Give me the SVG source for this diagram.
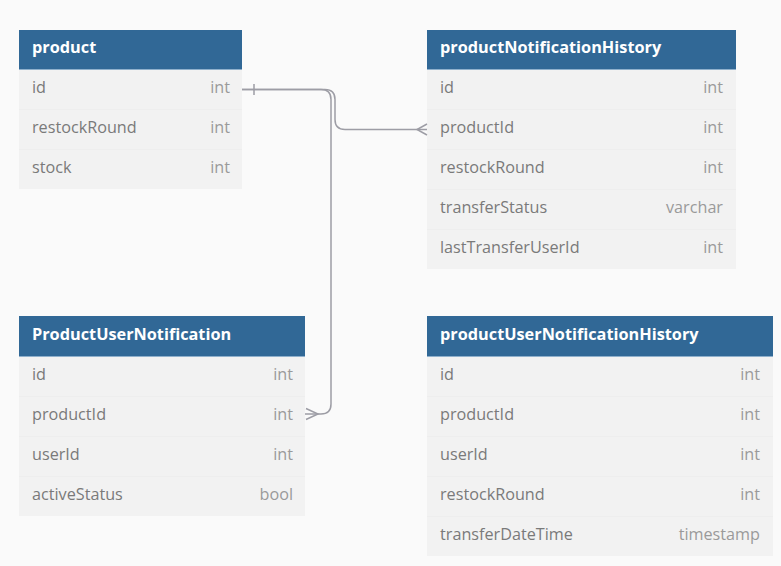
<svg xmlns="http://www.w3.org/2000/svg" width="781" height="566" viewBox="0 0 781 566">
<style>
.bg{fill:#fafafa}
.hd{fill:#316896}
.hl{stroke:#8fb0cc;stroke-width:1}
.row{fill:#f2f2f2}
.sep{stroke:#eeeeee;stroke-width:1}
.ht{font-family:"Open Sans","Noto Sans",sans-serif;font-size:16.3px;font-weight:bold;fill:#ffffff}
.fn{font-family:"Open Sans","Noto Sans",sans-serif;font-size:16.2px;fill:#7a7a7a}
.ft{font-family:"Open Sans","Noto Sans",sans-serif;font-size:16.2px;fill:#9a9a9a;text-anchor:end}
.cn{fill:none;stroke:#9d9da5;stroke-width:1.5}
</style>
<rect class="bg" x="0" y="0" width="781" height="566"/>

<g id="product">
<rect class="hd" x="19" y="30" width="223" height="39"/>
<rect class="row" x="19" y="69" width="223" height="120"/>
<line class="hl" x1="19" y1="69.5" x2="242" y2="69.5"/>
<line class="sep" x1="19" y1="109.5" x2="242" y2="109.5"/>
<line class="sep" x1="19" y1="149.5" x2="242" y2="149.5"/>
<text class="ht" x="32" y="53">product</text>
<text class="fn" x="32" y="93">id</text><text class="ft" x="230" y="93">int</text>
<text class="fn" x="32" y="133">restockRound</text><text class="ft" x="230" y="133">int</text>
<text class="fn" x="32" y="173">stock</text><text class="ft" x="230" y="173">int</text>
</g>

<g id="productNotificationHistory">
<rect class="hd" x="427" y="30" width="309" height="39"/>
<rect class="row" x="427" y="69" width="309" height="200"/>
<line class="hl" x1="427" y1="69.5" x2="736" y2="69.5"/>
<line class="sep" x1="427" y1="109.5" x2="736" y2="109.5"/>
<line class="sep" x1="427" y1="149.5" x2="736" y2="149.5"/>
<line class="sep" x1="427" y1="189.5" x2="736" y2="189.5"/>
<line class="sep" x1="427" y1="229.5" x2="736" y2="229.5"/>
<text class="ht" x="440" y="53">productNotificationHistory</text>
<text class="fn" x="440" y="93">id</text><text class="ft" x="723" y="93">int</text>
<text class="fn" x="440" y="133">productId</text><text class="ft" x="723" y="133">int</text>
<text class="fn" x="440" y="173">restockRound</text><text class="ft" x="723" y="173">int</text>
<text class="fn" x="440" y="213">transferStatus</text><text class="ft" x="723" y="213">varchar</text>
<text class="fn" x="440" y="253">lastTransferUserId</text><text class="ft" x="723" y="253">int</text>
</g>

<g id="ProductUserNotification">
<rect class="hd" x="19" y="316" width="286" height="40"/>
<rect class="row" x="19" y="356" width="286" height="160"/>
<line class="hl" x1="19" y1="356.5" x2="305" y2="356.5"/>
<line class="sep" x1="19" y1="396.5" x2="305" y2="396.5"/>
<line class="sep" x1="19" y1="436.5" x2="305" y2="436.5"/>
<line class="sep" x1="19" y1="476.5" x2="305" y2="476.5"/>
<text class="ht" x="32" y="340">ProductUserNotification</text>
<text class="fn" x="32" y="380">id</text><text class="ft" x="293" y="380">int</text>
<text class="fn" x="32" y="420">productId</text><text class="ft" x="293" y="420">int</text>
<text class="fn" x="32" y="460">userId</text><text class="ft" x="293" y="460">int</text>
<text class="fn" x="32" y="500">activeStatus</text><text class="ft" x="293" y="500">bool</text>
</g>

<g id="productUserNotificationHistory">
<rect class="hd" x="427" y="316" width="346" height="40"/>
<rect class="row" x="427" y="356" width="346" height="200"/>
<line class="hl" x1="427" y1="356.5" x2="773" y2="356.5"/>
<line class="sep" x1="427" y1="396.5" x2="773" y2="396.5"/>
<line class="sep" x1="427" y1="436.5" x2="773" y2="436.5"/>
<line class="sep" x1="427" y1="476.5" x2="773" y2="476.5"/>
<line class="sep" x1="427" y1="516.5" x2="773" y2="516.5"/>
<text class="ht" x="440" y="340">productUserNotificationHistory</text>
<text class="fn" x="440" y="380">id</text><text class="ft" x="760" y="380">int</text>
<text class="fn" x="440" y="420">productId</text><text class="ft" x="760" y="420">int</text>
<text class="fn" x="440" y="460">userId</text><text class="ft" x="760" y="460">int</text>
<text class="fn" x="440" y="500">restockRound</text><text class="ft" x="760" y="500">int</text>
<text class="fn" x="440" y="540">transferDateTime</text><text class="ft" x="760" y="540">timestamp</text>
</g>

<g id="connectors">
<path class="cn" d="M242,89.5 H325 Q335,89.5 335,99.5 V119.5 Q335,129.5 345,129.5 H427"/>
<path class="cn" d="M242,89.5 H321 Q331,89.5 331,99.5 V404 Q331,414 321,414 H305"/>
<line class="cn" x1="254" y1="84" x2="254" y2="95"/>
<path class="cn" d="M427,124 L417,129.5 L427,135"/>
<path class="cn" d="M306,408.5 L318,414 L306,419.5"/>
</g>
</svg>
